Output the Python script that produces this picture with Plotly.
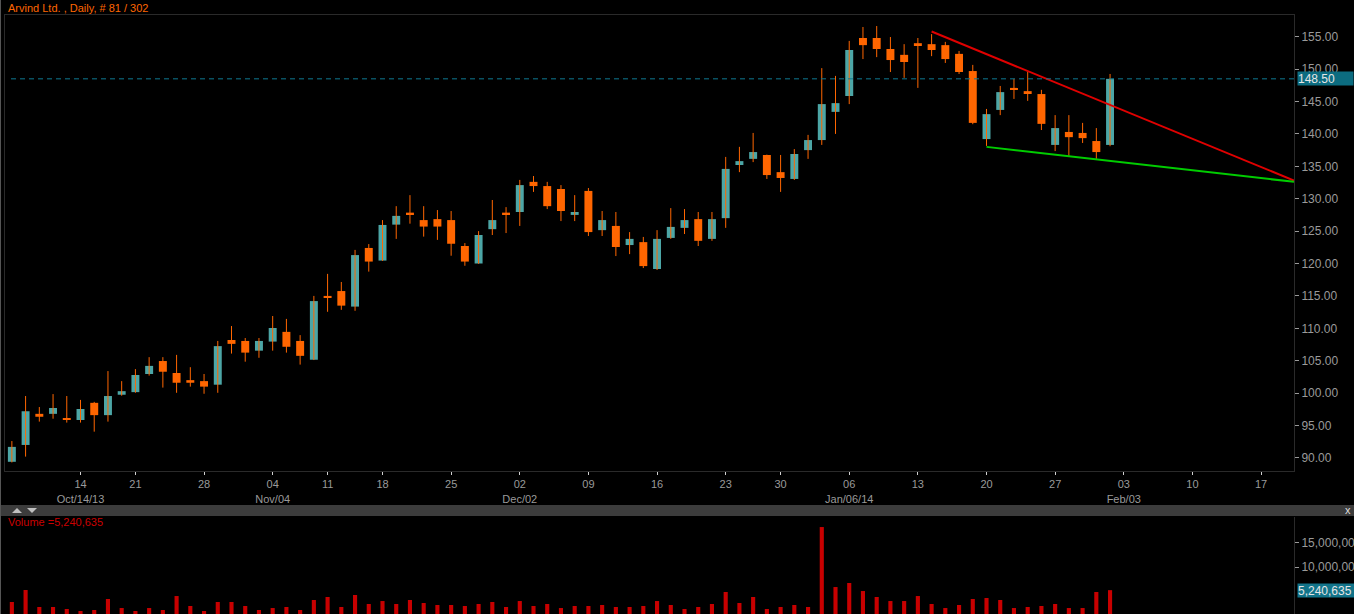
import pandas as pd
import plotly.graph_objects as go

# trading days: weekdays from Oct 7 2013 to Jan 31 2014, minus NSE holidays
holidays = ["2013-10-16", "2013-11-04", "2013-11-15", "2013-12-25"]
days = pd.bdate_range("2013-10-07", "2014-01-31")
days = days[~days.isin(pd.to_datetime(holidays))]
future_days = pd.bdate_range("2014-02-03", "2014-02-21")
all_days = list(days) + list(future_days)

opens = [89.4, 92.0, 96.8, 96.8, 96.15, 95.85, 98.5, 96.6, 99.75, 100.15,
         102.95, 104.95, 103.1, 102.0, 101.85, 101.3, 108.2, 108.05, 106.55, 107.95,
         109.45, 108.05, 105.15, 115.0, 115.75, 113.35, 122.4, 120.45, 126.0, 127.85,
         126.7, 126.85, 126.7, 122.7, 120.0, 125.3, 127.85, 127.95, 132.6, 131.95,
         131.5, 127.5, 131.2, 125.15, 125.8, 122.85, 123.3, 119.15, 123.95, 125.5,
         126.85, 123.8, 127.0, 135.2, 136.15, 136.75, 134.1, 133.05, 137.5, 139.05,
         143.4, 145.85, 154.8, 154.8, 153.1, 152.2, 154.0, 153.85, 153.7, 152.35,
         149.7, 139.2, 143.7, 147.1, 146.6, 146.15, 138.3, 140.3, 140.15, 138.9,
         138.3]
highs = [92.6, 99.55, 97.85, 99.85, 99.55, 98.95, 98.65, 103.4, 101.85, 103.7,
         105.55, 105.55, 105.9, 104.0, 102.95, 108.05, 110.35, 108.5, 108.5, 111.9,
         111.45, 108.95, 115.0, 118.4, 117.15, 122.1, 123.0, 126.7, 128.85, 130.55,
         128.85, 128.25, 128.1, 123.15, 125.0, 129.8, 128.7, 132.9, 133.5, 132.6,
         132.1, 130.55, 131.65, 128.1, 127.95, 124.85, 124.1, 125.15, 128.55, 128.4,
         127.95, 127.95, 136.45, 138.0, 140.15, 136.8, 136.75, 137.65, 139.85, 150.15,
         148.95, 154.35, 156.5, 156.65, 154.95, 153.85, 154.8, 155.4, 154.2, 152.8,
         150.65, 143.85, 147.4, 148.5, 149.55, 146.8, 142.9, 142.9, 141.7, 140.9,
         149.25]
lows = [89.3, 90.2, 95.6, 96.05, 95.45, 95.45, 94.05, 95.6, 99.6, 100.05,
        102.7, 100.85, 100.05, 101.0, 99.9, 100.05, 106.1, 104.85, 105.45, 106.55,
        106.25, 104.4, 105.1, 112.55, 112.85, 112.7, 118.75, 120.4, 123.8, 126.15,
        124.15, 123.65, 121.2, 119.65, 119.95, 124.4, 124.7, 125.8, 131.05, 128.4,
        126.55, 126.55, 124.25, 124.25, 121.15, 121.45, 119.3, 119.0, 123.8, 124.55,
        122.7, 123.5, 125.5, 134.1, 135.65, 133.05, 131.05, 132.9, 136.15, 138.3,
        140.0, 144.6, 151.55, 151.85, 149.55, 148.65, 147.1, 152.0, 150.95, 149.25,
        141.5, 138.15, 142.9, 145.4, 145.1, 140.6, 137.35, 136.6, 138.6, 136.15,
        138.1]
closes = [91.7, 97.2, 96.35, 97.7, 95.9, 97.55, 96.6, 99.55, 100.3, 102.8,
          104.2, 103.3, 101.6, 101.6, 101.0, 107.25, 107.6, 106.25, 108.05, 110.05,
          107.15, 105.75, 114.2, 114.7, 113.5, 121.3, 120.3, 125.95, 127.35, 127.6,
          125.7, 125.7, 123.05, 120.3, 124.4, 126.7, 127.6, 132.1, 131.95, 128.85,
          128.1, 127.95, 124.85, 126.7, 122.55, 123.8, 119.6, 123.8, 125.65, 126.7,
          123.5, 126.85, 134.6, 135.8, 137.2, 133.65, 133.2, 136.9, 139.05, 144.6,
          144.75, 152.95, 153.7, 153.1, 151.4, 151.1, 153.7, 152.95, 151.55, 149.55,
          141.7, 143.05, 146.45, 146.8, 146.3, 141.55, 140.9, 139.5, 139.35, 137.2,
          148.5]
volumes = [2800000, 5270000, 1770000, 1770000, 1360000, 950000, 1150000, 3420000, 1560000, 950000,
           1560000, 1150000, 4030000, 1980000, 950000, 2800000, 2800000, 1980000, 1150000, 1560000,
           1770000, 1150000, 3210000, 3830000, 1770000, 4240000, 2390000, 3000000, 2390000, 3210000,
           2590000, 2180000, 2180000, 1980000, 2390000, 2800000, 1770000, 3000000, 1980000, 2390000,
           1560000, 1980000, 1980000, 2180000, 1770000, 1770000, 1980000, 3000000, 2180000, 1360000,
           1770000, 2390000, 4860000, 2590000, 3830000, 1360000, 1770000, 2180000, 1770000, 18230000,
           5880000, 6710000, 5060000, 3830000, 3000000, 3000000, 4030000, 2390000, 1560000, 2180000,
           3420000, 3620000, 3210000, 1560000, 1770000, 1980000, 2390000, 1560000, 1560000, 4860000,
           5240635]

# week starts shown on the time axis
week_mondays = ["2013-10-14", "2013-10-21", "2013-10-28", "2013-11-04", "2013-11-11",
                "2013-11-18", "2013-11-25", "2013-12-02", "2013-12-09", "2013-12-16",
                "2013-12-23", "2013-12-30", "2014-01-06", "2014-01-13", "2014-01-20",
                "2014-01-27", "2014-02-03", "2014-02-10", "2014-02-17"]
month_labels = {"2013-10-14": "Oct/14/13", "2013-11-04": "Nov/04", "2013-12-02": "Dec/02",
                "2014-01-06": "Jan/06/14", "2014-02-03": "Feb/03"}

# drawn trend lines (bar index, price)
red_x, red_y = [67, 93.4], [155.8, 132.8]
green_x, green_y = [71, 93.4], [138.0, 132.6]

price_ticks = [90, 95, 100, 105, 110, 115, 120, 125, 130, 135, 140, 145, 150, 155]
vol_ticks = [10000000, 15000000]

W, H = 1354, 614
L, R, T, B = 5, 60, 15, 0
def px(x): return (x - L) / (W - L - R)
def py(y): return (H - B - y) / (H - T - B)

TEAL = "#4ca6a6"
ORANGE = "#ff6600"
GREY = "#9a9a9a"
FONT = "Liberation Sans, Arial, sans-serif"

idx = list(range(len(closes)))
tick_pos, tick_txt = [], []
for m in week_mondays:
    d = pd.Timestamp(m)
    pos = next(i for i, day in enumerate(all_days) if day >= d)
    tick_pos.append(pos)
    lab = d.strftime("%d")
    if m in month_labels:
        lab += "<br>" + month_labels[m]
    tick_txt.append(lab)

wx, wy = [], []
for i in idx:
    wx += [i, i, None]
    wy += [lows[i], highs[i], None]

bases = [min(o, c) for o, c in zip(opens, closes)]
heights = [max(abs(c - o), 0.22) for o, c in zip(opens, closes)]
colors = [TEAL if c >= o else ORANGE for o, c in zip(opens, closes)]

fig = go.Figure()
fig.add_trace(go.Scatter(x=wx, y=wy, mode="lines", line=dict(color=ORANGE, width=1),
                         hoverinfo="skip"))
fig.add_trace(go.Bar(x=idx, y=heights, base=bases, width=0.58,
                     marker=dict(color=colors, line=dict(width=0))))
fig.add_trace(go.Bar(x=idx, y=volumes, width=0.3, yaxis="y2",
                     marker=dict(color="#c80000", line=dict(width=0))))
fig.add_trace(go.Scatter(x=red_x, y=red_y, mode="lines", line=dict(color="#e00000", width=2)))
fig.add_trace(go.Scatter(x=green_x, y=green_y, mode="lines", line=dict(color="#00cc00", width=2)))

shapes = [
    dict(type="line", xref="paper", yref="y", x0=px(11), x1=1, y0=closes[-1], y1=closes[-1],
         line=dict(color="#0e7a92", width=1, dash="5px,4px")),
    # panel divider
    dict(type="rect", xref="paper", yref="paper", x0=px(0), x1=px(W), y0=py(516), y1=py(505),
         fillcolor="#3c3c3c", line=dict(width=0), layer="above"),
    dict(type="path", xref="paper", yref="paper", layer="above",
         path=f"M {px(12)} {py(513)} L {px(22)} {py(513)} L {px(17)} {py(508)} Z",
         fillcolor="#c0c0c0", line=dict(width=0)),
    dict(type="path", xref="paper", yref="paper", layer="above",
         path=f"M {px(27)} {py(508)} L {px(37)} {py(508)} L {px(32)} {py(513)} Z",
         fillcolor="#c0c0c0", line=dict(width=0)),
    dict(type="line", xref="paper", yref="paper", x0=px(0.5), x1=px(0.5), y0=0, y1=py(0),
         line=dict(color="#555555", width=1)),
]

annotations = [
    dict(text="Arvind Ltd. , Daily, # 81 / 302", xref="paper", yref="paper", x=px(6), y=py(8),
         xanchor="left", yanchor="middle", showarrow=False,
         font=dict(family=FONT, size=11, color=ORANGE)),
    dict(text=f"Volume ={volumes[-1]:,}", xref="paper", yref="paper", x=px(6), y=py(522),
         xanchor="left", yanchor="middle", showarrow=False,
         font=dict(family=FONT, size=11, color="#cc0000")),
    dict(text=f"{closes[-1]:.2f}", xref="paper", yref="y", x=px(1297), y=closes[-1],
         xanchor="left", yanchor="middle", showarrow=False, bgcolor="#0c6c80",
         width=55, height=13, align="left", borderpad=0,
         font=dict(family=FONT, size=12, color="#e6e6e6")),
    dict(text=f"{volumes[-1]:,}", xref="paper", yref="y2", x=px(1297), y=volumes[-1],
         xanchor="left", yanchor="middle", showarrow=False, bgcolor="#12748a",
         width=57, height=13, align="left", borderpad=0,
         font=dict(family=FONT, size=12, color="#e6e6e6")),
    dict(text="x", xref="paper", yref="paper", x=px(1348), y=py(510),
         xanchor="center", yanchor="middle", showarrow=False,
         font=dict(family=FONT, size=11, color="#dddddd")),
]

fig.update_layout(
    width=W, height=H,
    margin=dict(l=L, r=R, t=T, b=B, autoexpand=False),
    paper_bgcolor="#000000", plot_bgcolor="#000000",
    showlegend=False, barmode="overlay", hovermode=False,
    font=dict(family=FONT, size=11, color=GREY),
    xaxis=dict(range=[-0.5, 93.4], tickvals=tick_pos, ticktext=tick_txt,
               ticks="outside", ticklen=3, tickcolor="#d0d0d0",
               showline=True, linecolor="#2a2a2a", mirror=True,
               showgrid=False, zeroline=False, anchor="y", automargin=False,
               tickfont=dict(family=FONT, size=11, color=GREY)),
    yaxis=dict(domain=[py(471), 1], side="right", range=[87.98, 158.35],
               tickvals=price_ticks, ticktext=[f"{v:.2f}" for v in price_ticks],
               ticks="outside", ticklen=4, tickcolor=GREY,
               showline=True, linecolor="#2a2a2a", mirror=True,
               showgrid=False, zeroline=False, automargin=False,
               tickfont=dict(family=FONT, size=12, color=GREY)),
    yaxis2=dict(domain=[0, py(517)], side="right", anchor="x", range=[330000, 20300000],
                tickvals=vol_ticks, ticktext=[f"{v:,}" for v in vol_ticks],
                ticks="outside", ticklen=4, tickcolor=GREY,
                showline=True, linecolor="#2a2a2a",
                showgrid=False, zeroline=False, automargin=False,
                tickfont=dict(family=FONT, size=12, color=GREY)),
    shapes=shapes, annotations=annotations,
)

# drop the browser's default page margin so the figure sits at the window corner
fig.write_html("out.html", config={"displayModeBar": False},
               post_script="document.body.style.margin='0px';")
